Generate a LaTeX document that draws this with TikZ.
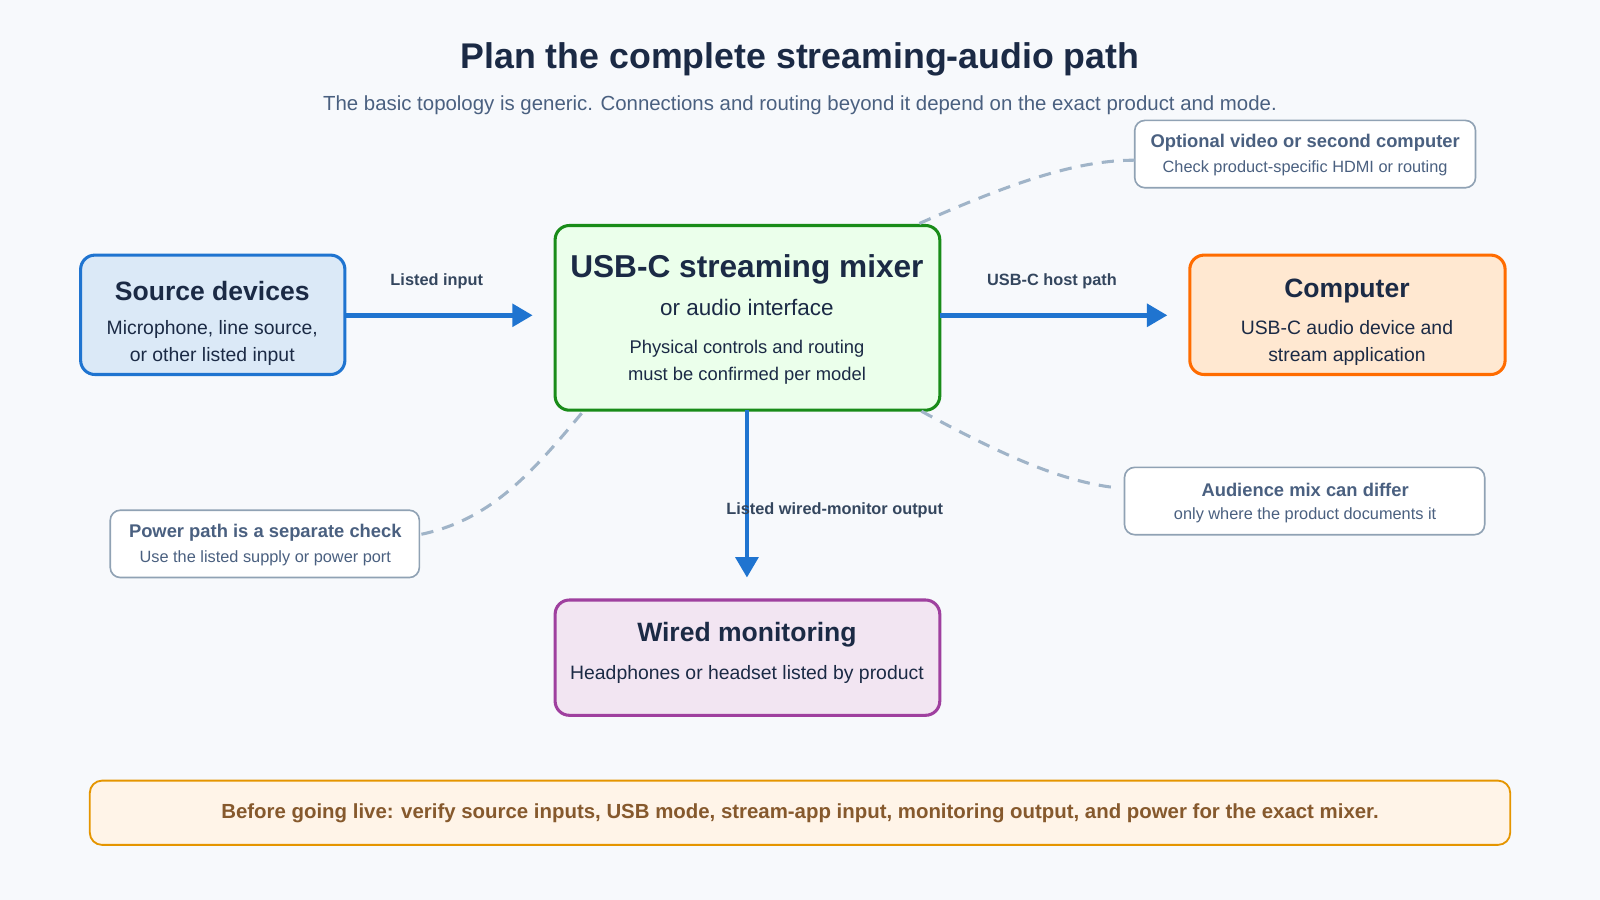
\documentclass[tikz,border=0pt]{standalone}
\usepackage{fontspec}
\setmainfont{Liberation Sans}
\usetikzlibrary{arrows.meta}
\definecolor{bg}{HTML}{F7F9FC}
\definecolor{navy}{HTML}{1B2A45}
\definecolor{slate}{HTML}{4A6080}
\definecolor{lbl}{HTML}{34465E}
\definecolor{blu}{HTML}{1F74D0}
\definecolor{dash}{HTML}{A0B4C8}
\tikzset{
 box/.style={draw, line width=3pt, rounded corners=14pt, inner sep=0pt},
 note/.style={draw=dash!90!black, fill=white, line width=1.6pt, rounded corners=10pt},
 flow/.style={draw=blu, line width=4.5pt, -{Triangle[length=20pt,width=22pt]}},
 dsh/.style={draw=dash, line width=3pt, dash pattern=on 12pt off 9pt},
 lab/.style={font=\bfseries\fontsize{16}{19}\selectfont, text=lbl},
}
\begin{document}
\begin{tikzpicture}[x=1pt,y=-1pt]
\fill[bg] (0,0) rectangle (1568,882);
\useasboundingbox (0,0) rectangle (1568,882);
\node[font=\bfseries\fontsize{35}{40}\selectfont, text=navy] (title) at (784,58) {Plan the complete streaming-audio path};
\node[font=\fontsize{20}{24}\selectfont, text=slate] (sub) at (784,103) {The basic topology is generic. Connections and routing beyond it depend on the exact product and mode.};
% boxes
\draw[box, draw=blu, fill=blu!16] (79,250) rectangle (338,367);
\node (src) at (208,309) {};
\node[font=\bfseries\fontsize{26}{30}\selectfont, text=navy] (srcT) at (208,285) {Source devices};
\node[font=\fontsize{19}{26}\selectfont, text=navy, align=center] (srcB) at (208,336) {Microphone, line source,\\or other listed input};
\draw[box, draw=green!50!black!90, fill=green!8] (544,221) rectangle (921,402);
\node[font=\bfseries\fontsize{31}{36}\selectfont, text=navy] (mixT) at (732,264) {USB-C streaming mixer};
\node[font=\fontsize{22}{26}\selectfont, text=navy] (mixS) at (732,301) {or audio interface};
\node[font=\fontsize{18}{26}\selectfont, text=navy, align=center] (mixB) at (732,355) {Physical controls and routing\\must be confirmed per model};
\draw[box, draw=orange!85!red, fill=orange!18] (1166,250) rectangle (1475,367);
\node[font=\bfseries\fontsize{26}{30}\selectfont, text=navy] (cmpT) at (1320,285) {Computer};
\node[font=\fontsize{19}{26}\selectfont, text=navy, align=center] (cmpB) at (1320,336) {USB-C audio device and\\stream application};
\draw[box, draw=violet!75, fill=violet!10] (544,588) rectangle (921,701);
\node[font=\bfseries\fontsize{26}{30}\selectfont, text=navy] (monT) at (732,622) {Wired monitoring};
\node[font=\fontsize{19}{24}\selectfont, text=navy] (monB) at (732,661) {Headphones or headset listed by product};
% notes
\draw[note] (1112,118) rectangle (1446,184);
\node[font=\bfseries\fontsize{18}{22}\selectfont, text=slate] (n1T) at (1279,140) {Optional video or second computer};
\node[font=\fontsize{16}{20}\selectfont, text=slate] (n1B) at (1279,165) {Check product-specific HDMI or routing};
\draw[note] (1102,458) rectangle (1455,524);
\node[font=\bfseries\fontsize{18}{22}\selectfont, text=slate] (n2T) at (1279,480) {Audience mix can differ};
\node[font=\fontsize{16}{20}\selectfont, text=slate] (n2B) at (1279,505) {only where the product documents it};
\draw[note] (108,500) rectangle (411,566);
\node[font=\bfseries\fontsize{18}{22}\selectfont, text=slate] (n3T) at (260,522) {Power path is a separate check};
\node[font=\fontsize{16}{20}\selectfont, text=slate] (n3B) at (260,547) {Use the listed supply or power port};
% coordinates
\coordinate (a1) at (338,309); \coordinate (a2) at (522,309);
\coordinate (b1) at (921,309); \coordinate (b2) at (1144,309);
\coordinate (c1) at (732,402); \coordinate (c2) at (732,566);
\coordinate (d1) at (901,219); \coordinate (d2) at (1112,157);
\coordinate (e1) at (903,403); \coordinate (e2) at (1094,478);
\coordinate (f1) at (570,405); \coordinate (f2) at (411,524);
\draw[dsh] (d1) .. controls (1000,175) and (1060,157) .. (d2);
\draw[dsh] (e1) .. controls (980,445) and (1040,472) .. (e2);
\draw[dsh] (f1) .. controls (520,465) and (480,510) .. (f2);
\draw[flow] (a1) -- (a2);
\draw[flow] (b1) -- (b2);
\draw[flow] (c1) -- (c2);
\node[lab] (l1) at (428,276) {Listed input};
\node[lab] (l2) at (1031,276) {USB-C host path};
\node[lab] (l3) at (818,500) {Listed wired-monitor output};
% banner
\draw[draw=orange!70!yellow!90!black, fill=orange!9, line width=1.8pt, rounded corners=12pt] (88,765) rectangle (1480,828);
\node[font=\bfseries\fontsize{20}{24}\selectfont, text=brown!70!black] (ban) at (784,797) {Before going live: verify source inputs, USB mode, stream-app input, monitoring output, and power for the exact mixer.};
\end{tikzpicture}
\end{document}
